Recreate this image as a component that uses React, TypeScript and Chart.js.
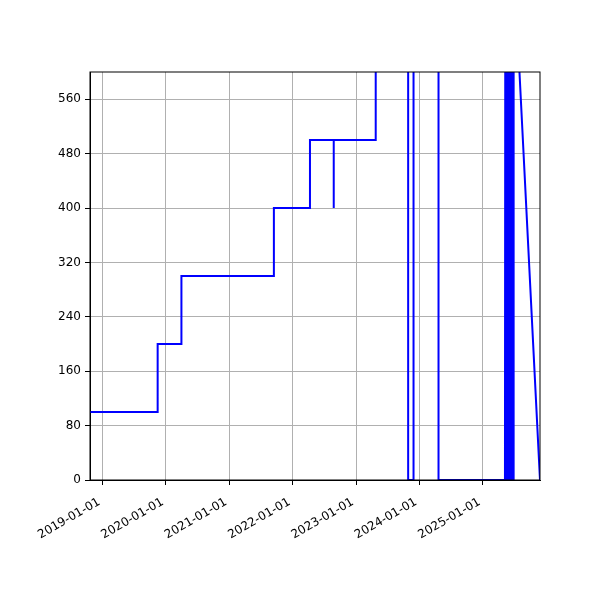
import { useEffect, useRef } from "react";
import { Chart, registerables, type ChartConfiguration, type Plugin } from "chart.js";

Chart.register(...registerables);

// x positions (dates) and values of the plotted line
const pointDates = [
  "2018-10-20", "2019-11-14", "2019-11-14", "2020-03-30", "2020-03-30",
  "2021-09-14", "2021-09-14", "2022-04-10", "2022-04-10", "2022-08-25",
  "2022-08-25", "2022-08-25", "2023-04-24", "2023-04-24", "2023-10-28",
  "2023-10-28", "2023-11-28", "2023-11-28", "2024-04-20", "2024-04-20",
  "2025-05-08", "2025-05-10", "2025-05-13", "2025-05-16", "2025-05-19",
  "2025-05-22", "2025-05-25", "2025-05-28", "2025-05-31", "2025-06-03",
  "2025-06-06", "2025-06-09", "2025-06-12", "2025-06-15", "2025-06-18",
  "2025-06-21", "2025-06-24", "2025-06-27", "2025-07-01", "2025-11-26",
];
const pointValues = [
  100, 100, 200, 200, 300,
  300, 400, 400, 500, 500,
  400, 500, 500, 700, 700,
  0, 0, 700, 700, 0,
  0, 750, 0, 750, 0,
  750, 0, 750, 0, 750,
  0, 750, 0, 750, 0,
  750, 0, 750, 750, 0,
];

const xTickLabels = [
  "2019-01-01", "2020-01-01", "2021-01-01", "2022-01-01",
  "2023-01-01", "2024-01-01", "2025-01-01",
];
const yTickValues = [0, 80, 160, 240, 320, 400, 480, 560];

const FONT = { family: "'DejaVu Sans', sans-serif", size: 12 };

const framePlugin: Plugin = {
  id: "frame",
  afterDraw(chart) {
    const { ctx, chartArea } = chart;
    ctx.save();
    ctx.strokeStyle = "#000";
    ctx.lineWidth = 1;
    ctx.strokeRect(chartArea.left, chartArea.top, chartArea.right - chartArea.left, chartArea.bottom - chartArea.top);
    ctx.restore();
  },
};

export default function App() {
  const canvasRef = useRef<HTMLCanvasElement | null>(null);

  useEffect(() => {
    if (!canvasRef.current) return;
    document.body.style.margin = "0";

    const data = pointDates.map((d, i) => ({ x: Date.parse(d), y: pointValues[i] }));
    const xTicks = xTickLabels.map((d) => Date.parse(d));

    const config: ChartConfiguration<"line"> = {
      type: "line",
      data: {
        datasets: [
          {
            data,
            borderColor: "#0000ff",
            borderWidth: 2,
            pointRadius: 0,
            tension: 0,
            fill: false,
          },
        ],
      },
      options: {
        responsive: false,
        animation: false,
        devicePixelRatio: 1,
        layout: { padding: { top: 72, right: 60, left: 0, bottom: 0 } },
        plugins: {
          legend: { display: false },
          tooltip: { enabled: false },
        },
        scales: {
          x: {
            type: "linear",
            min: Date.parse(pointDates[0]),
            max: Date.parse(pointDates[pointDates.length - 1]),
            afterBuildTicks: (scale) => {
              scale.ticks = xTicks.map((v) => ({ value: v }));
            },
            afterFit: (scale) => {
              scale.height = 120;
            },
            ticks: {
              autoSkip: false,
              minRotation: 30,
              maxRotation: 30,
              color: "#000",
              font: FONT,
              padding: 8,
              // trailing space nudges the rotated text off the tick like matplotlib
              callback: (_v, i) => xTickLabels[i] + " ",
            },
            grid: { color: "#b0b0b0", lineWidth: 1, tickColor: "#000", tickLength: 5 },
            border: { color: "#000", width: 1 },
          },
          y: {
            type: "linear",
            min: 0,
            max: 600,
            afterBuildTicks: (scale) => {
              scale.ticks = yTickValues.map((v) => ({ value: v }));
            },
            afterFit: (scale) => {
              scale.width = 90;
            },
            ticks: { color: "#000", font: FONT, padding: 4 },
            grid: { color: "#b0b0b0", lineWidth: 1, tickColor: "#000", tickLength: 5 },
            border: { color: "#000", width: 1 },
          },
        },
      },
      plugins: [framePlugin],
    };

    const chart = new Chart(canvasRef.current, config);
    return () => {
      chart.destroy();
    };
  }, []);

  return (
    <div style={{ width: 600, height: 600, background: "#fff" }}>
      <canvas ref={canvasRef} width={600} height={600} />
    </div>
  );
}
